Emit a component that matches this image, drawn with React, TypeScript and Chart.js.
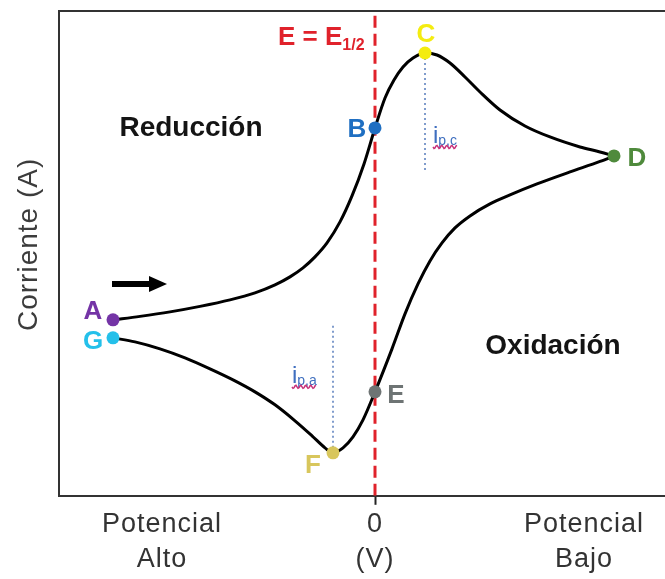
import React, { useEffect, useRef } from "react";
import { Chart, registerables } from "chart.js";

Chart.register(...registerables);

// ---- data (potential axis: 0 = E1/2, current in arbitrary units) ----
const forwardX = [-262, -235, -205, -175, -145, -120, -100, -85, -72, -60, -48, -35, -23, -11, 0, 10, 19, 28, 38, 50, 62, 75, 90, 105, 125, 150, 175, 205, 225, 239];
const forwardY = [-59, -55.5, -51, -45.5, -39, -32, -24, -16, -7, 4, 18, 39, 65, 97, 133, 163, 181, 194, 203, 208, 206, 198, 184, 169, 151, 135, 124, 114, 109, 105];

const returnX = [239, 225, 195, 162, 135, 115, 95, 80, 67, 55, 43, 30, 17, 0, -12, -22, -32, -42, -50, -63, -80, -100, -120, -140, -165, -190, -215, -240, -262];
const returnY = [105, 99.5, 89, 77, 66, 57, 45, 33, 18, 0, -23, -53, -88, -131, -159, -176, -187, -192, -187, -175, -160, -144, -131, -120, -108, -97, -88, -81, -77];

const pointNames = ["A", "B", "C", "D", "E", "F", "G"];
const pointX = [-262, 0, 50, 239, 0, -42, -262];
const pointY = [-59, 133, 208, 105, -131, -192, -77];
const pointColors = ["#7434a6", "#1f6fc2", "#f4ec10", "#4f8a3c", "#6e7474", "#d8c65c", "#24c0ea"];

const halfWaveX = [0, 0];
const halfWaveY = [-235, 250];
const cathodicPeakX = [50, 50];
const cathodicPeakY = [208, 89];
const anodicPeakX = [-42, -42];
const anodicPeakY = [-192, -64];

const tickValues = [-213, 0, 209];
const tickLabels = [["Potencial", "Alto"], ["0", "(V)"], ["Potencial", "Bajo"]];

const xMin = -316;
const xMax = 290;
const yMin = -235;
const yMax = 250;

const FONT = '"Liberation Sans", Arial, Helvetica, sans-serif';

const toXY = (xs: number[], ys: number[]) => xs.map((v, i) => ({ x: v, y: ys[i] }));

const spacingPlugin = {
  id: "letterSpacing",
  beforeDraw(chart: any) {
    (chart.ctx as any).letterSpacing = "1px";
  },
};

const annotationPlugin = {
  id: "cvAnnotations",
  afterDatasetsDraw(chart: any) {
    const { ctx, scales } = chart;
    const sx = scales.x;
    const sy = scales.y;
    const px = (v: number) => sx.getPixelForValue(v);
    const py = (v: number) => sy.getPixelForValue(v);
    ctx.save();
    (ctx as any).letterSpacing = "0px";

    // point letters
    const offsets = [[-20, -9], [-18, 1], [1, -19], [23, 2], [21, 3], [-20, 12], [-20, 3]];
    ctx.font = `bold 26px ${FONT}`;
    ctx.textAlign = "center";
    ctx.textBaseline = "middle";
    pointNames.forEach((n, i) => {
      ctx.fillStyle = pointColors[i];
      ctx.fillText(n, px(pointX[i]) + offsets[i][0], py(pointY[i]) + offsets[i][1] + 1);
    });

    // region labels
    ctx.fillStyle = "#141414";
    ctx.font = `bold 28px ${FONT}`;
    ctx.fillText("Reducción", px(-184), py(134) + 1);
    ctx.fillText("Oxidación", px(178), py(-84) + 1);

    // E = E1/2
    ctx.fillStyle = "#e0222b";
    ctx.textAlign = "left";
    ctx.textBaseline = "alphabetic";
    ctx.font = `bold 26px ${FONT}`;
    const main = "E = E";
    const lx = px(-97);
    const by = py(216);
    ctx.fillText(main, lx, by);
    const mw = ctx.measureText(main).width;
    ctx.font = `bold 16px ${FONT}`;
    ctx.fillText("1/2", lx + mw, by + 5);

    // sweep arrow
    const ay = py(-23);
    const ax0 = px(-263);
    const ax1 = px(-208);
    ctx.strokeStyle = "#000";
    ctx.lineWidth = 6;
    ctx.beginPath();
    ctx.moveTo(ax0, ay);
    ctx.lineTo(ax1 - 14, ay);
    ctx.stroke();
    ctx.fillStyle = "#000";
    ctx.beginPath();
    ctx.moveTo(ax1, ay);
    ctx.lineTo(ax1 - 18, ay - 8);
    ctx.lineTo(ax1 - 18, ay + 8);
    ctx.closePath();
    ctx.fill();

    // peak current labels
    const peakLabel = (sub: string, x0: number, base: number) => {
      ctx.fillStyle = "#3f6fbf";
      ctx.font = `24px ${FONT}`;
      ctx.fillText("i", x0, base);
      const iw = ctx.measureText("i").width;
      ctx.font = `14px ${FONT}`;
      ctx.fillText(sub, x0 + iw, base + 2);
      const sw = ctx.measureText(sub).width;
      ctx.strokeStyle = "#c8327a";
      ctx.lineWidth = 1.5;
      ctx.beginPath();
      const wy = base + 4;
      for (let k = 0; k <= sw + iw; k += 1) {
        const yy = wy + 1.6 * Math.sin((k / 5) * Math.PI * 2);
        if (k === 0) ctx.moveTo(x0 + k, yy);
        else ctx.lineTo(x0 + k, yy);
      }
      ctx.stroke();
    };
    peakLabel("p,c", px(58), py(118));
    peakLabel("p,a", px(-83), py(-122));

    // y axis title
    ctx.save();
    (ctx as any).letterSpacing = "1px";
    ctx.translate(29, (py(104) + py(-71)) / 2);
    ctx.rotate(-Math.PI / 2);
    ctx.fillStyle = "#3c3c3c";
    ctx.font = `28px ${FONT}`;
    ctx.textAlign = "center";
    ctx.textBaseline = "middle";
    ctx.fillText("Corriente (A)", 0, 0);
    ctx.restore();

    ctx.restore();
  },
};

export default function App() {
  const canvasRef = useRef<HTMLCanvasElement | null>(null);

  useEffect(() => {
    if (!canvasRef.current) return;
    const chart = new Chart(canvasRef.current, {
      type: "scatter",
      data: {
        datasets: [
          {
            label: "points",
            data: toXY(pointX, pointY),
            showLine: false,
            pointRadius: 6.5,
            pointBorderWidth: 0,
            pointBackgroundColor: pointColors,
            pointBorderColor: pointColors,
            order: 0,
          },
          {
            label: "forward",
            data: toXY(forwardX, forwardY),
            showLine: true,
            borderColor: "#000",
            borderWidth: 3,
            pointRadius: 0,
            cubicInterpolationMode: "monotone",
            order: 1,
          },
          {
            label: "return",
            data: toXY(returnX, returnY),
            showLine: true,
            borderColor: "#000",
            borderWidth: 3,
            pointRadius: 0,
            cubicInterpolationMode: "monotone",
            order: 1,
          },
          {
            label: "E1/2",
            data: toXY(halfWaveX, halfWaveY),
            showLine: true,
            borderColor: "#e0222b",
            borderWidth: 3,
            borderDash: [12, 6],
            pointRadius: 0,
            order: 2,
          },
          {
            label: "ipc",
            data: toXY(cathodicPeakX, cathodicPeakY),
            showLine: true,
            borderColor: "#809ccc",
            borderWidth: 2,
            borderDash: [2, 3],
            pointRadius: 0,
            order: 3,
          },
          {
            label: "ipa",
            data: toXY(anodicPeakX, anodicPeakY),
            showLine: true,
            borderColor: "#809ccc",
            borderWidth: 2,
            borderDash: [2, 3],
            pointRadius: 0,
            order: 3,
          },
        ],
      },
      options: {
        responsive: false,
        animation: false,
        events: [],
        layout: { autoPadding: false, padding: { left: 59, top: 11, right: 0, bottom: 0 } },
        plugins: {
          legend: { display: false },
          tooltip: { enabled: false },
        },
        scales: {
          x: {
            type: "linear",
            position: "bottom",
            min: xMin,
            max: xMax,
            afterBuildTicks: (scale: any) => {
              scale.ticks = tickValues.map((v) => ({ value: v }));
            },
            ticks: {
              autoSkip: false,
              maxRotation: 0,
              padding: 2,
              color: "#333",
              font: { family: FONT, size: 27, lineHeight: 1.3 },
              callback: (value: any) => {
                const i = tickValues.indexOf(Number(value));
                return i >= 0 ? tickLabels[i] : "";
              },
            },
            grid: {
              display: true,
              drawOnChartArea: false,
              drawTicks: true,
              tickLength: 9,
              tickWidth: 2,
              color: "rgba(0,0,0,0)",
              tickColor: (c: any) => (c.tick && c.tick.value === 0 ? "#222" : "rgba(0,0,0,0)"),
            },
            border: { display: true, color: "#333", width: 2 },
          },
          xTop: {
            type: "linear",
            position: "top",
            min: xMin,
            max: xMax,
            ticks: { display: false },
            grid: { display: false, drawTicks: false },
            border: { display: true, color: "#333", width: 2 },
          },
          y: {
            type: "linear",
            position: "left",
            min: yMin,
            max: yMax,
            ticks: { display: false },
            grid: { display: false, drawTicks: false },
            border: { display: true, color: "#333", width: 2 },
          },
        },
      },
      plugins: [spacingPlugin, annotationPlugin],
    });
    return () => chart.destroy();
  }, []);

  return (
    <div style={{ position: "absolute", left: 0, top: 0, width: 665, height: 579, background: "#fff" }}>
      <canvas ref={canvasRef} width={665} height={579} style={{ width: 665, height: 579, display: "block" }} />
    </div>
  );
}
